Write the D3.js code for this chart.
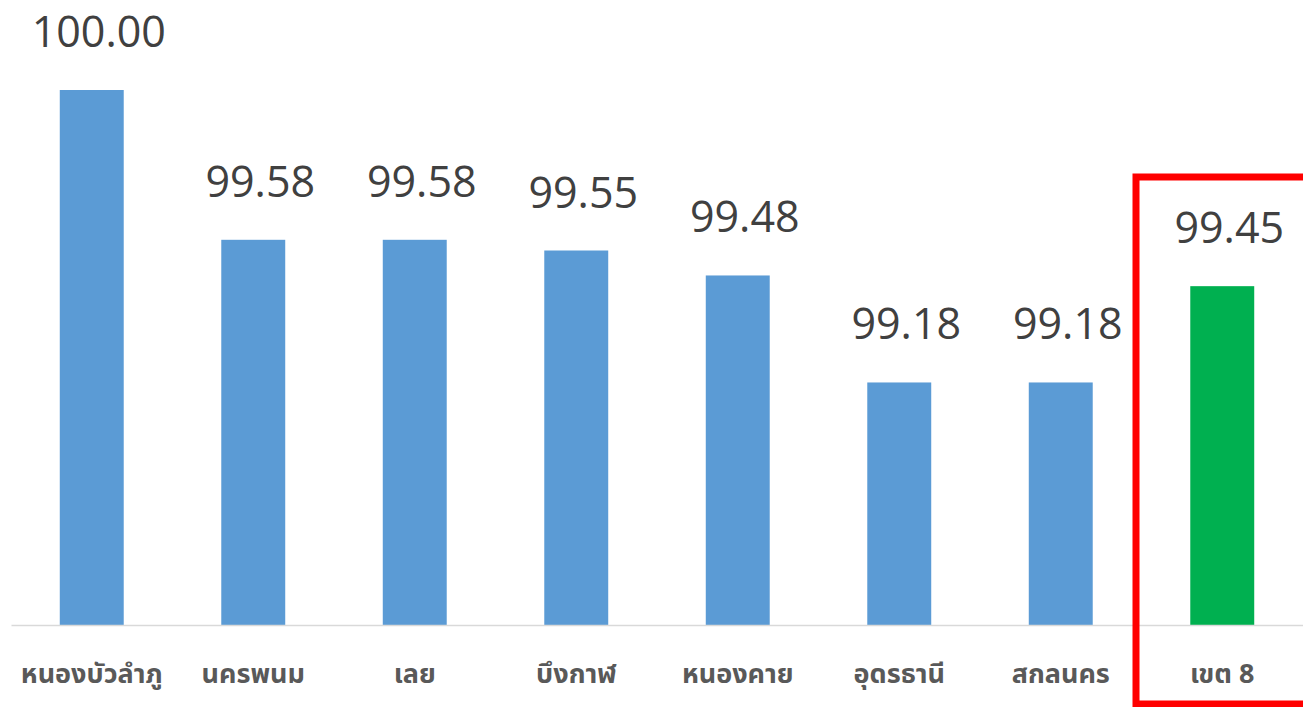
<!DOCTYPE html>
<html><head><meta charset="utf-8">
<script src="https://cdn.jsdelivr.net/npm/d3@7"></script>
<style>body{margin:0;background:#fff}svg{display:block}</style>
</head><body>
<svg id="c" width="1303" height="707"></svg>
<script>
const categories = ["หนองบัวลำภู","นครพนม","เลย","บึงกาฬ","หนองคาย","อุดรธานี","สกลนคร","เขต 8"];
const values = [100.00, 99.58, 99.58, 99.55, 99.48, 99.18, 99.18, 99.45];
const highlight = ["เขต 8"];

const svg = d3.select("#c");
const x = d3.scaleBand().domain(categories).range([11, 1303]).paddingInner(0.604).paddingOuter(0.302);
const y = d3.scaleLinear().domain([98.5, 100]).range([625, 90]);

svg.selectAll("rect.bar").data(values).enter().append("rect")
  .attr("class","bar")
  .attr("x",(d,i)=>x(categories[i]))
  .attr("width",x.bandwidth())
  .attr("y",d=>y(d))
  .attr("height",d=>y(98.5)-y(d))
  .attr("fill",(d,i)=>highlight.includes(categories[i])?"#00b050":"#5b9bd5");

const ax = svg.append("g").attr("transform","translate(0,625)").call(d3.axisBottom(x).tickSize(0).tickPadding(39));
ax.select(".domain").attr("stroke","#d9d9d9").attr("stroke-width",1.5);
ax.selectAll("text").attr("font-family","'Noto Sans Thai','Noto Sans',sans-serif").attr("font-size",27).attr("font-weight","bold").attr("fill","#595959");

svg.selectAll("text.val").data(values).enter().append("text")
  .attr("class","val")
  .attr("x",(d,i)=>x(categories[i])+x.bandwidth()/2+7)
  .attr("y",d=>y(d)-43)
  .attr("text-anchor","middle")
  .attr("font-family","'Open Sans','Noto Sans',sans-serif")
  .attr("font-size",43)
  .attr("fill","#404040")
  .text(d=>d.toFixed(2));

// highlight frame
const hx = x("เขต 8");
svg.append("rect")
  .attr("x",hx - (x.step()*x.paddingInner()/2) - 5.5)
  .attr("y",177).attr("width",300).attr("height",527)
  .attr("fill","none").attr("stroke","#ff0000").attr("stroke-width",7);
</script>
</body></html>
